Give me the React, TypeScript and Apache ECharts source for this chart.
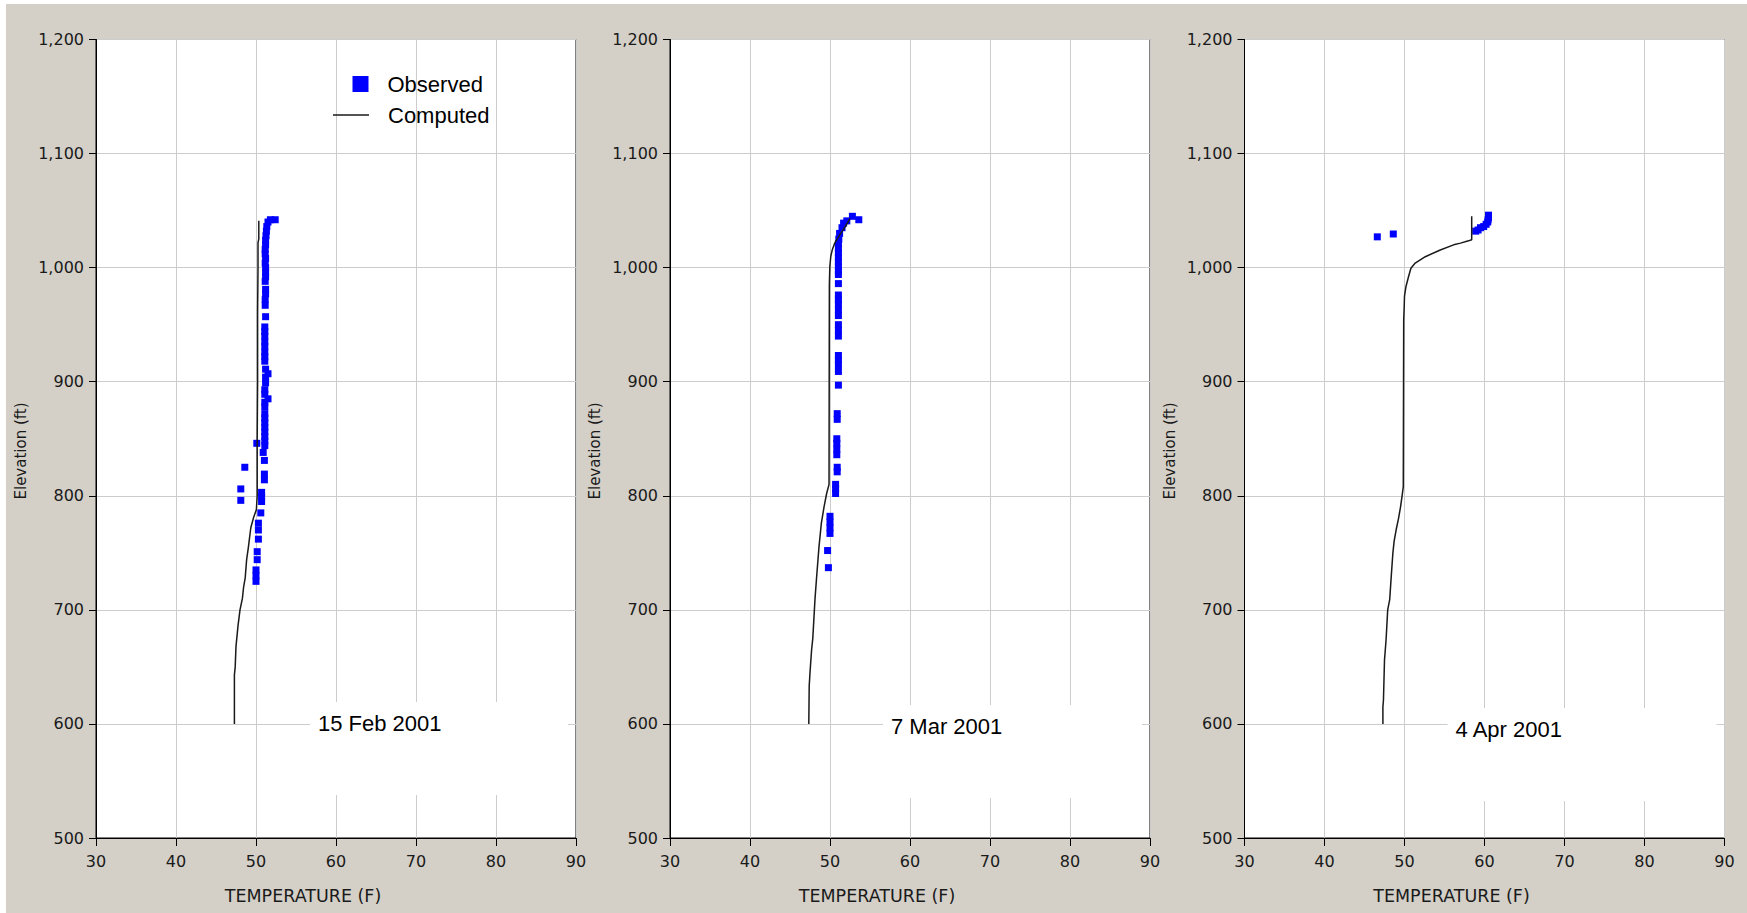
import React, { useEffect, useRef } from "react";
import * as echarts from "echarts";

// ---- axis ticks ----
const tempTicks = [30, 40, 50, 60, 70, 80, 90];
const elevTicks = [500, 600, 700, 800, 900, 1000, 1100, 1200];

// ---- panel titles ----
const dateLabels = ["15 Feb 2001", "7 Mar 2001", "4 Apr 2001"];
const seriesNames = ["Observed", "Computed"];
const xTitle = "TEMPERATURE (F)";
const yTitle = "Elevation (ft)";

// ---- 15 Feb 2001 ---- [temperature F, elevation ft]
const observedFeb: number[][] = [
  [52.4, 1042], [51.8, 1042], [51.5, 1040], [51.35, 1036], [51.3, 1032], [51.25, 1028],
  [51.2, 1024], [51.2, 1020], [51.15, 1016], [51.15, 1012], [51.2, 1008], [51.15, 1004],
  [51.2, 1000], [51.2, 996], [51.2, 992], [51.15, 988], [51.2, 981], [51.2, 977],
  [51.15, 972], [51.15, 967], [51.2, 957], [51.1, 948], [51.1, 944], [51.1, 940],
  [51.1, 935], [51.1, 931], [51.1, 926], [51.1, 922], [51.1, 918], [51.2, 911],
  [51.5, 907], [51.2, 904], [51.2, 899], [51.1, 893], [51.1, 889], [51.5, 885],
  [51.1, 882], [51.1, 878], [51.1, 872], [51.1, 868], [51.1, 864], [51.1, 860],
  [51.1, 856], [51.1, 852], [51.1, 848], [51.1, 844], [50.1, 846], [50.9, 838],
  [51.05, 831], [51.05, 819], [51.05, 814], [48.6, 825], [48.1, 806], [48.1, 796],
  [50.7, 803], [50.7, 799], [50.7, 795], [50.6, 785], [50.3, 776], [50.3, 770],
  [50.3, 762], [50.15, 751], [50.15, 744], [50.0, 735], [50.0, 730], [50.0, 725],
];
const computedFeb: number[][] = [
  [47.3, 600], [47.3, 643], [47.4, 650], [47.5, 668], [47.75, 686], [48.0, 700],
  [48.3, 710], [48.45, 720], [48.65, 728], [48.83, 744], [49.05, 755], [49.35, 772],
  [49.7, 781], [50.05, 788], [50.15, 800], [50.15, 850], [50.2, 900], [50.2, 960],
  [50.25, 1000], [50.25, 1022], [50.35, 1025], [50.35, 1041],
];

// ---- 7 Mar 2001 ----
const observedMar: number[][] = [
  [53.6, 1042], [52.8, 1045], [52.1, 1041], [51.7, 1039], [51.5, 1035], [51.2, 1030],
  [51.1, 1025], [51.05, 1021], [51.05, 1017], [51.05, 1013], [51.05, 1009], [51.05, 1005],
  [51.05, 1001], [51.05, 997], [51.05, 994], [51.05, 986], [51.05, 976], [51.05, 972],
  [51.05, 968], [51.05, 963], [51.05, 958], [51.05, 950], [51.05, 945], [51.05, 940],
  [51.05, 923], [51.05, 919], [51.05, 915], [51.05, 909], [51.05, 897], [50.9, 872],
  [50.9, 867], [50.85, 850], [50.85, 846], [50.85, 841], [50.85, 836], [50.9, 825],
  [50.9, 821], [50.7, 810], [50.7, 806], [50.7, 802], [50.0, 782], [50.0, 777],
  [50.0, 772], [50.0, 767], [49.7, 752], [49.8, 737],
];
const computedMar: number[][] = [
  [47.35, 600], [47.4, 633], [47.5, 645], [47.7, 665], [47.85, 675], [48.12, 709],
  [48.33, 729], [48.62, 755], [48.92, 776], [49.25, 790], [49.58, 802], [49.88, 810],
  [49.9, 900], [49.92, 985], [49.98, 1001], [50.1, 1010], [50.3, 1016], [50.56, 1021],
  [51.06, 1027], [51.9, 1036], [52.5, 1043],
];

// ---- 4 Apr 2001 ----
const observedApr: number[][] = [
  [46.6, 1027], [48.6, 1029.5], [58.9, 1032], [59.2, 1033], [59.5, 1035], [59.9, 1036],
  [60.2, 1038], [60.4, 1040], [60.45, 1042], [60.5, 1044], [60.5, 1046],
];
const computedApr: number[][] = [
  [47.3, 600], [47.3, 615], [47.37, 621], [47.5, 656], [47.6, 665], [47.7, 674],
  [47.9, 700], [48.15, 709], [48.35, 730], [48.55, 750], [48.7, 760], [48.95, 770],
  [49.25, 780], [49.5, 790], [49.7, 800], [49.85, 808], [49.88, 900], [49.9, 954],
  [49.96, 965], [50.0, 975], [50.17, 983], [50.5, 992], [50.8, 999.5], [51.34, 1004],
  [52.6, 1009.6], [54.47, 1015.5], [56.14, 1020], [57.0, 1021.5], [58.0, 1023.5],
  [58.4, 1024.5], [58.4, 1045],
];

const observedAll = [observedFeb, observedMar, observedApr];
const computedAll = [computedFeb, computedMar, computedApr];

// ---- layout (chart-local px) ----
const PLOT_LEFT = [90, 664, 1238.5];
const PLOT_W = 480;
const PLOT_TOP = 35.5;
const PLOT_H = 798.5;
const BOX_LEFT = [214, 213, 203];
const BOX_RIGHT = 472;
const BOX_TOP = [698, 701, 704];
const BOX_H = 93;

const BG = "#d4d0c8";
const TICK_FONT = "'DejaVu Sans', Verdana, sans-serif";
const ARIAL = "'Liberation Sans', Arial, sans-serif";

function fmtElev(v: number) {
  return v >= 1000 ? `${Math.floor(v / 1000)},${String(v % 1000).padStart(3, "0")}` : String(v);
}

function buildOption() {
  const grids: any[] = [];
  const xAxes: any[] = [];
  const yAxes: any[] = [];
  const series: any[] = [];
  const graphics: any[] = [];

  for (let i = 0; i < 3; i++) {
    grids.push({
      left: PLOT_LEFT[i],
      top: PLOT_TOP,
      width: PLOT_W,
      height: PLOT_H,
      show: true,
      backgroundColor: "#ffffff",
      borderColor: "#000000",
      borderWidth: 1,
      containLabel: false,
    });
    xAxes.push({
      type: "value",
      gridIndex: i,
      min: tempTicks[0],
      max: tempTicks[tempTicks.length - 1],
      interval: tempTicks[1] - tempTicks[0],
      axisLine: { show: true, onZero: false, lineStyle: { color: "#000", width: 1 } },
      axisTick: { show: true, length: 8, lineStyle: { color: "#000" } },
      axisLabel: { color: "#1a1a1a", fontFamily: TICK_FONT, fontSize: 16, margin: 15 },
      splitLine: { show: true, lineStyle: { color: "#cccccc", width: 1 } },
    });
    yAxes.push({
      type: "value",
      gridIndex: i,
      min: elevTicks[0],
      max: elevTicks[elevTicks.length - 1],
      interval: elevTicks[1] - elevTicks[0],
      axisLine: { show: true, onZero: false, lineStyle: { color: "#000", width: 1 } },
      axisTick: { show: true, length: 7, lineStyle: { color: "#000" } },
      axisLabel: { color: "#1a1a1a", fontFamily: TICK_FONT, fontSize: 16, margin: 12, formatter: fmtElev },
      splitLine: { show: true, lineStyle: { color: "#cccccc", width: 1 } },
    });
    series.push({
      name: seriesNames[0],
      type: "scatter",
      xAxisIndex: i,
      yAxisIndex: i,
      symbol: "rect",
      symbolSize: 7,
      itemStyle: { color: "#0000ff", opacity: 1 },
      data: observedAll[i],
      z: 2,
    });
    series.push({
      name: seriesNames[1],
      type: "line",
      xAxisIndex: i,
      yAxisIndex: i,
      symbol: "none",
      showSymbol: false,
      lineStyle: { color: "#1a1a1a", width: 1.5 },
      itemStyle: { color: "#1a1a1a" },
      data: computedAll[i],
      z: 3,
    });

    // date label box
    graphics.push({
      type: "rect",
      z: 50,
      shape: { x: PLOT_LEFT[i] + BOX_LEFT[i], y: BOX_TOP[i], width: BOX_RIGHT - BOX_LEFT[i], height: BOX_H },
      style: { fill: "#ffffff" },
      silent: true,
    });
    graphics.push({
      type: "text",
      z: 51,
      x: PLOT_LEFT[i] + BOX_LEFT[i] + 8,
      y: BOX_TOP[i] + 21,
      style: { text: dateLabels[i], font: `22px ${ARIAL}`, fill: "#000", textAlign: "left", textVerticalAlign: "middle" },
      silent: true,
    });
    // axis titles
    graphics.push({
      type: "text",
      z: 51,
      x: PLOT_LEFT[i] + 207,
      y: 892,
      style: { text: xTitle, font: `17.5px ${TICK_FONT}`, fill: "#1a1a1a", textAlign: "center", textVerticalAlign: "middle" },
      silent: true,
    });
    graphics.push({
      type: "text",
      z: 51,
      x: PLOT_LEFT[i] - 75,
      y: 447,
      rotation: Math.PI / 2,
      style: { text: yTitle, font: `15px ${TICK_FONT}`, fill: "#1a1a1a", textAlign: "center", textVerticalAlign: "middle" },
      silent: true,
    });
  }

  return {
    animation: false,
    backgroundColor: BG,
    textStyle: { fontFamily: TICK_FONT },
    grid: grids,
    xAxis: xAxes,
    yAxis: yAxes,
    legend: [
      {
        data: [{ name: seriesNames[0], icon: "rect", itemStyle: { color: "#0000ff", opacity: 1 } }],
        left: 346.5,
        top: 69,
        padding: 0,
        itemWidth: 16,
        itemHeight: 16,
        selectedMode: false,
        textStyle: { fontFamily: ARIAL, fontSize: 22, color: "#000", padding: [0, 0, 0, 14] },
      },
      {
        data: [{ name: seriesNames[1], icon: "rect", itemStyle: { color: "#1a1a1a" } }],
        left: 327,
        top: 100,
        padding: 0,
        itemWidth: 36,
        itemHeight: 1.5,
        selectedMode: false,
        textStyle: { fontFamily: ARIAL, fontSize: 22, color: "#000", padding: [0, 0, 0, 14] },
      },
    ],
    graphic: { z: 50, elements: graphics },
    series,
  };
}

export default function App() {
  const ref = useRef<HTMLDivElement>(null);
  useEffect(() => {
    if (!ref.current) return;
    const chart = echarts.init(ref.current, null, { renderer: "svg" });
    chart.setOption(buildOption() as any);
    return () => chart.dispose();
  }, []);
  return (
    <div style={{ position: "absolute", left: 0, top: 0, width: 1747, height: 913, background: "#ffffff", overflow: "hidden" }}>
      <div ref={ref} style={{ position: "absolute", left: 6, top: 4, width: 1741, height: 909 }} />
    </div>
  );
}
